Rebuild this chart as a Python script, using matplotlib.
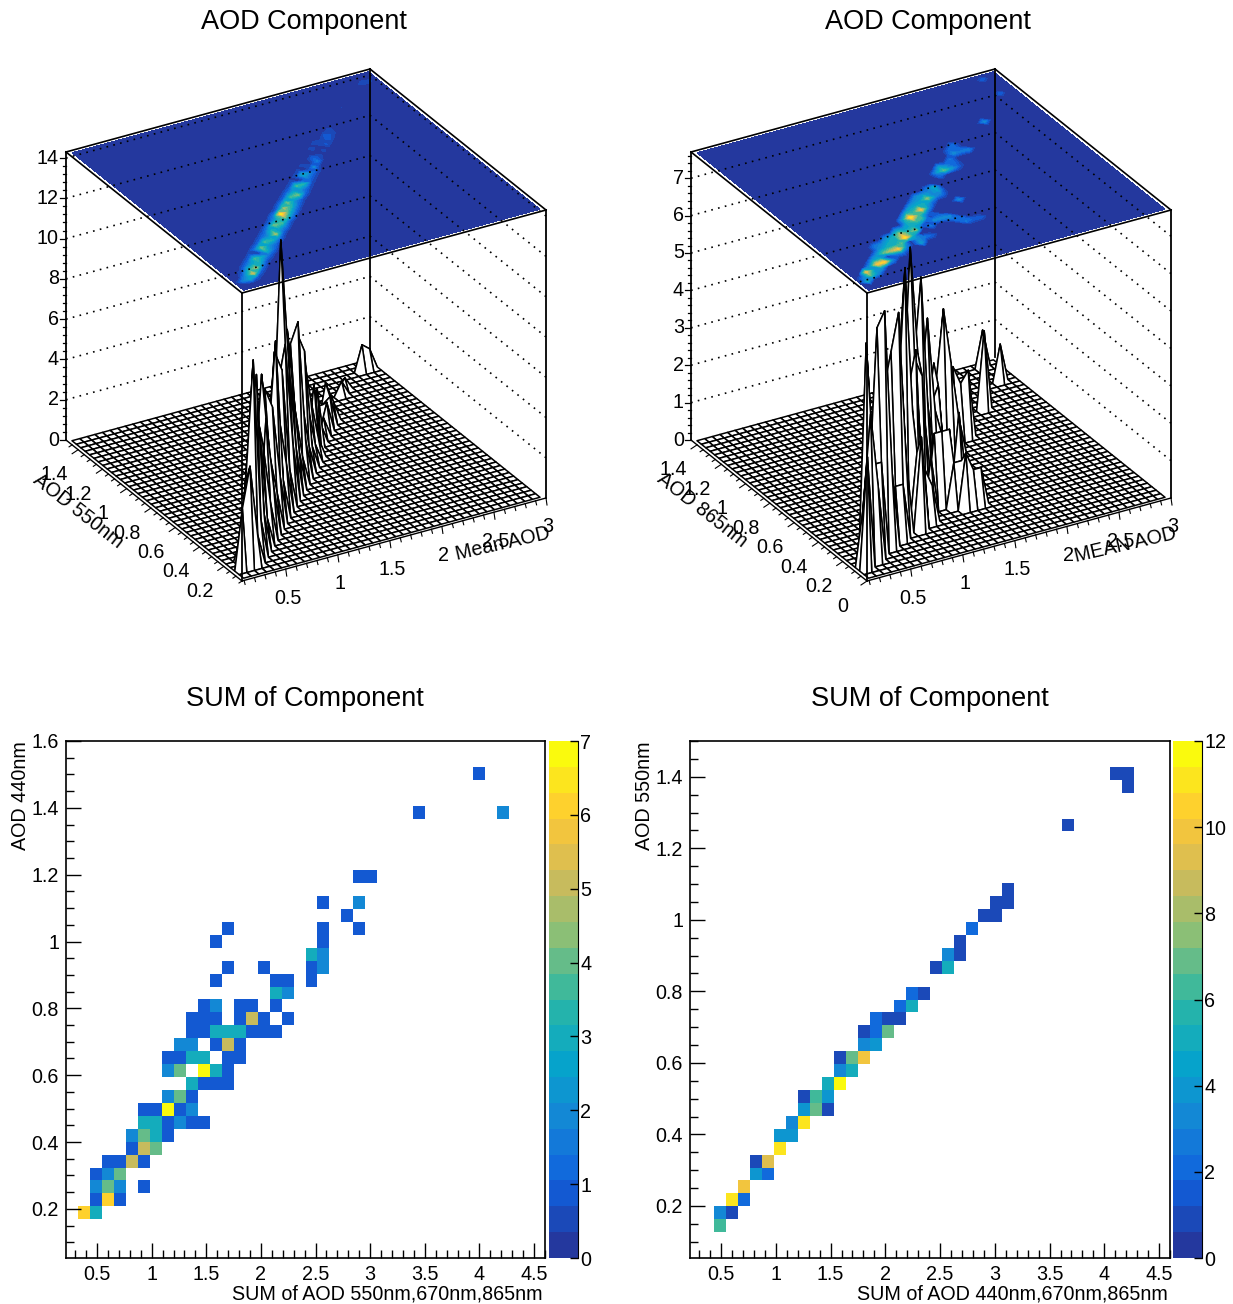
import numpy as np
import matplotlib
matplotlib.use('Agg')
import matplotlib.pyplot as plt
from matplotlib.collections import PolyCollection
from matplotlib.colors import LinearSegmentedColormap, BoundaryNorm
from matplotlib.ticker import MultipleLocator

plt.rcParams['font.family'] = ['Liberation Sans', 'DejaVu Sans']
#=================================================================================
# top left lego: cells of Mean AOD vs AOD 550nm
tl_ix = [1,2,2,3,3,4,4,5,5,6,7,7,8,8,9,9,10,10,11,11,12,12,13,13,14,14,15,15,16,16,17,17,18,18,19,20,20,21,22,23,23,25,26,27,27,28,32,33,37,38,
         3,4,5,6,7,8,9,10,11,12,13,14,15,16,17,18,19,20,21,22,
         2,3,4,5,6,7,8,9,10,11,12,13,14,15,16,17,18,19,20,21,24,24,25,26,28]
tl_iy = [2,2,3,3,4,4,5,5,6,6,7,8,8,9,9,10,10,11,11,12,12,13,13,14,14,15,15,16,16,17,17,18,18,19,19,20,21,21,22,23,24,25,26,27,28,28,33,34,37,37,
         2,3,4,5,6,7,8,9,10,11,12,13,14,15,16,17,18,19,20,21,
         4,5,6,7,8,9,10,11,12,13,14,15,16,17,18,19,20,21,22,23,26,24,27,27,29]
tl_h  = [3,5,4,10,6,9,5,6,7,5,6,8,4,7,6,4,9,6,5,8,7,6,8,13,7,9,6,8,4,7,8,5,4,7,6,3,5.5,3,3.5,3,2,1,1.5,1.5,2,1,0.7,0.6,1.3,1,
         1.5,2,2,1.5,2,2.5,2,2.5,2,2.5,2,3,2.5,2,1.5,2,1.5,1.2,1,1,
         1.2,2,2,2,2.5,2,2,2,2.5,2,3,2,2.5,2,2,1.5,1.5,1.2,1.2,1,1.2,1,1.2,1.2,1.2]
# top right lego: cells of MEAN AOD vs AOD 865nm
tr_ix = [1,2,2,3,4,5,5,6,7,8,8,9,10,10,11,12,12,13,13,14,15,15,16,17,17,18,19,19,20,22,22,23,25,26,27,32,37,37,
         1,3,4,3,4,6,5,6,7,7,8,9,6,7,9,8,8,9,11,11,12,13,11,11,10,12,13,14,15,14,12,13,14,14,15,16,16,16,15,16,17,18,17,18,18,19,21,21,23,24,24,24,26,26,25,18,17,16,19,20]
tr_iy = [2,3,4,4,5,5,6,7,7,7,8,8,9,10,7,10,11,13,12,13,14,15,11,11,16,9,17,18,14,21,22,21,24,26,24,29,34,38,
         3,3,4,5,6,5,7,8,8,6,6,7,9,9,9,9,10,10,9,8,8,8,10,11,11,12,11,10,11,12,13,14,14,15,13,14,15,16,16,17,15,16,17,17,18,16,21,20,22,21,22,23,24,25,25,10,10,12,9,9]
tr_h  = [3,4,5.8,2.5,6,6.4,3,4,5,6,3,4,6.9,5,2.5,4.5,3,6.9,4,4,5.9,3,2,2,4.5,1.5,2.5,3,2,4,2.5,2.5,2,1.2,1.8,2.1,1,1,
         1.5,2,2.5,2,2.5,2,2,2,3,1.5,1.5,2,1.5,2,3,3,2,3,3,2,1.5,1,3.5,2.5,2.5,3,2.5,1.5,2,3.5,2.5,3,3.5,2.5,2,2,3,2.5,2,2,1.5,2,2.5,2,1.5,1.2,2,1.2,1.5,1,1.2,1.5,1.5,1.2,1.2,1.2,1.2,1,1,1]
tl_xlim, tl_ylim, tl_zmax = (0.08, 3.0), (0.05, 1.5), 14.3
tr_xlim, tr_ylim, tr_zmax = (0.08, 3.0), (0.0, 1.45), 7.7
tl_zticks, tr_zticks = np.arange(0, 15, 2), np.arange(0, 8, 1)
x3_ticks = [0.5, 1, 1.5, 2, 2.5, 3]
tl_y_ticks = [0.2, 0.4, 0.6, 0.8, 1, 1.2, 1.4]
tr_y_ticks = [0, 0.2, 0.4, 0.6, 0.8, 1, 1.2, 1.4]

# bottom left histogram (bin index, bin index, entries)
bl_ix = [34,29,36,24,25,21,24,23,13,21,24,12,21,20,21,13,16,20,21,12,17,18,20,17,18,11,12,14,15,17,
         10,11,12,14,15,16,18,10,11,12,13,14,15,16,17,9,10,12,13,14,8,9,10,11,13,14,8,9,11,12,13,
         10,11,12,13,8,9,10,6,7,8,9,10,6,7,8,9,10,11,5,6,7,8,5,6,7,3,4,5,6,2,3,4,2,3,4,6,2,3,4,1,2]
bl_iy = [37,34,34,29,29,27,27,26,25,25,25,24,24,23,23,22,22,22,22,21,21,21,21,20,20,19,19,19,19,19,
         18,18,18,18,18,18,18,17,17,17,17,17,17,17,17,16,16,16,16,16,15,15,15,15,15,15,14,14,14,14,14,
         13,13,13,13,12,12,12,11,11,11,11,11,10,10,10,10,10,10,9,9,9,9,8,8,8,7,7,7,7,6,6,6,5,5,5,5,4,4,4,3,3]
bl_v  = [1,1,2,1,1,1,2,1,1,1,1,1,1,3,2,1,1,1,2,1,1,1,1,3,2,1,2,1,1,1,
         1,1,1,1,5,1,1,1,1,3,3,3,1,1,1,2,2,1,5,1,1,1,3,3,1,1,2,4,7,3,1,
         3,1,1,1,2,4,1,1,1,7,1,2,3,3,1,2,1,1,2,4,3,1,1,5,4,1,1,5,1,1,2,4,2,4,2,1,1,6,1,6,3]
# bottom right histogram
br_ix = [35,36,36,31,26,25,26,24,25,23,22,21,22,20,21,18,19,17,18,15,16,17,14,15,16,14,15,12,13,14,12,13,11,12,9,10,11,9,10,11,8,9,7,8,7,5,6,5,6,4,3,4,2,3,2]
br_iy = [37,37,36,33,28,27,27,26,26,25,24,23,23,22,22,20,20,19,19,18,18,18,17,17,17,16,16,15,15,15,14,14,13,13,12,12,12,11,11,11,10,10,9,9,8,7,7,6,6,5,4,4,3,3,2]
br_v  = [1,1,1,1,1,1,1,1,1,2,1,3,1,1,5,2,1,2,5,2,1,1,1,2,7,3,4,1,7,10,3,5,5,12,1,6,4,4,7,1,3,11,4,4,11,1,9,4,2,10,11,2,3,1,6]

bl_xlim, bl_ylim, bl_zmax = (0.216, 4.6), (0.053, 1.6), 7
br_xlim, br_ylim, br_zmax = (0.216, 4.6), (0.0545, 1.5), 12
x2_ticks = [0.5, 1, 1.5, 2, 2.5, 3, 3.5, 4, 4.5]
bl_y_ticks = [0.2, 0.4, 0.6, 0.8, 1, 1.2, 1.4, 1.6]
br_y_ticks = [0.2, 0.4, 0.6, 0.8, 1, 1.2, 1.4]
#=================================================================================
W, H = 1233, 1304
NBINS = 40
FS = 14.2
bird = LinearSegmentedColormap.from_list('bird', [
    (0.14, 0.22, 0.62), (0.06, 0.38, 0.87), (0.08, 0.52, 0.84), (0.02, 0.65, 0.79),
    (0.18, 0.72, 0.64), (0.53, 0.75, 0.47), (0.82, 0.73, 0.35), (1.00, 0.79, 0.20), (0.98, 0.98, 0.05)], N=256)


def to_grid(ix, iy, v):
    z = np.zeros((NBINS, NBINS))
    z[iy, ix] = v
    return z


def fmt(v):
    return ('%g' % v)


def lego_panel(ax, ox, title, tx, ix, iy, h, xlim, ylim, zmax, zticks, yticks, xlabel, ylabel, xlab_pos, ylab_pos):
    front = np.array([ox + 242, 293.0])
    ex, ey, height = np.array([304.0, -83.0]), np.array([-176.0, -141.0]), 288.0

    def proj(u, v, z):
        return (front[0] + u*ex[0] + v*ey[0], front[1] + u*ex[1] + v*ey[1] + height*(1 - np.asarray(z)/zmax))

    z = to_grid(ix, iy, h)
    centers = (np.arange(NBINS) + 0.5)/NBINS
    U, V = np.meshgrid(centers, centers)
    levels = np.linspace(0, z.max()*1.05, 21)
    # contour on the top of the box
    PX, PY = proj(U, V, zmax)
    ax.contourf(PX, PY, z, levels=levels, cmap=bird, norm=BoundaryNorm(levels, 256), zorder=1)

    # dotted grid on the two back walls
    for zt in zticks[1:]:
        a, b, c = proj(0, 1, zt), proj(1, 1, zt), proj(1, 0, zt)
        ax.plot([a[0], b[0], c[0]], [a[1], b[1], c[1]], color='k', lw=1.2, ls=(0, (1, 3.2)), zorder=2)
    for u, v in [(0, 1), (1, 1), (1, 0)]:
        a, b = proj(u, v, 0), proj(u, v, zmax)
        ax.plot([a[0], b[0]], [a[1], b[1]], color='k', lw=1.3, zorder=2)

    # surface, from the back corner to the front one
    SX, SY = proj(U, V, z)
    verts = []
    for i in range(NBINS - 2, -1, -1):
        for j in range(NBINS - 2, -1, -1):
            verts.append([(SX[i, j], SY[i, j]), (SX[i, j+1], SY[i, j+1]), (SX[i+1, j+1], SY[i+1, j+1]), (SX[i+1, j], SY[i+1, j])])
    ax.add_collection(PolyCollection(verts, facecolors='white', edgecolors='k', linewidths=1.1, zorder=3))

    # box outline
    for p, q in [((0, 1), (0, 0)), ((0, 0), (1, 0)), ((1, 0), (1, 1)), ((1, 1), (0, 1))]:
        a, b = proj(p[0], p[1], zmax), proj(q[0], q[1], zmax)
        ax.plot([a[0], b[0]], [a[1], b[1]], color='k', lw=1.2, zorder=4)
    for p, q in [((0, 1), (0, 0)), ((0, 0), (1, 0))]:
        a, b = proj(p[0], p[1], 0), proj(q[0], q[1], 0)
        ax.plot([a[0], b[0]], [a[1], b[1]], color='k', lw=1.0, zorder=4)
    a, b = proj(0, 0, 0), proj(0, 0, zmax)
    ax.plot([a[0], b[0]], [a[1], b[1]], color='k', lw=1.3, zorder=4)

    # z axis
    step = zticks[1] - zticks[0]
    for zt in np.arange(0, zmax, step/5):
        px, py = proj(0, 1, zt)
        major = np.isclose(zt/step, round(zt/step))
        ax.plot([px - (6 if major else 3), px], [py, py], color='k', lw=0.9, zorder=4)
    for zt in zticks:
        px, py = proj(0, 1, zt)
        ax.text(px - 7, py, fmt(zt), ha='right', va='center', fontsize=FS, zorder=5)
    # x axis
    for xt in np.arange(0.1, 3.01, 0.1):
        u = (xt - xlim[0])/(xlim[1] - xlim[0])
        px, py = proj(u, 0, 0)
        major = np.isclose(xt*2, round(xt*2))
        ax.plot([px, px + 1], [py, py + (7 if major else 4)], color='k', lw=0.8, zorder=4)
    for xt in x3_ticks:
        u = (xt - xlim[0])/(xlim[1] - xlim[0])
        px, py = proj(u, 0, 0)
        ax.text(px + 2, py + 29, fmt(xt), ha='center', va='center', fontsize=FS, zorder=5)
    # y axis
    for yt in np.arange(np.ceil(ylim[0]*20)/20, ylim[1], 0.05):
        v = (yt - ylim[0])/(ylim[1] - ylim[0])
        px, py = proj(0, v, 0)
        major = np.isclose(yt*5, round(yt*5))
        ax.plot([px - (6 if major else 3), px], [py + (4 if major else 2), py], color='k', lw=0.8, zorder=4)
    for yt in yticks:
        v = (yt - ylim[0])/(ylim[1] - ylim[0])
        px, py = proj(0, v, 0)
        ax.text(px - 24, py + 25, fmt(yt), ha='center', va='center', fontsize=FS, zorder=5)
    ax.text(xlab_pos[0], xlab_pos[1], xlabel, rotation=13, ha='center', va='center', fontsize=FS, zorder=6)
    ax.text(ylab_pos[0], ylab_pos[1], ylabel, rotation=-38, ha='center', va='center', fontsize=FS, zorder=6)
    ax.text(tx, 22, title, ha='center', va='center', fontsize=19.5, zorder=6)


def hist_panel(left, right, cb_left, cb_right, ix, iy, vals, xlim, ylim, zmax, yticks, xlabel, ylabel, title, tx):
    top, bottom = 741, 1258
    ax = fig.add_axes([left/W, 1 - bottom/H, (right - left)/W, (bottom - top)/H])
    xedges = np.linspace(xlim[0], xlim[1], NBINS + 1)
    yedges = np.linspace(ylim[0], ylim[1], NBINS + 1)
    z = np.ma.masked_equal(to_grid(ix, iy, vals), 0)
    levels = np.linspace(0, zmax, 21)
    norm = BoundaryNorm(levels, 256)
    ax.pcolormesh(xedges, yedges, z, cmap=bird, norm=norm)
    ax.set_xlim(xlim)
    ax.set_ylim(ylim)
    ax.set_xticks(x2_ticks)
    ax.set_xticklabels([fmt(t) for t in x2_ticks])
    ax.set_yticks(yticks)
    ax.set_yticklabels([fmt(t) for t in yticks])
    ax.xaxis.set_minor_locator(MultipleLocator(0.1))
    ax.yaxis.set_minor_locator(MultipleLocator(0.05))
    ax.tick_params(which='major', direction='in', length=11, width=1, labelsize=FS, pad=5)
    ax.tick_params(which='minor', direction='in', length=6, width=1)
    for s in ax.spines.values():
        s.set_linewidth(1.2)
    ax.set_xlabel(xlabel, fontsize=FS, ha='right', va='center')
    ax.xaxis.set_label_coords((right - 2 - left)/(right - left), -36/(bottom - top))
    ax.set_ylabel(ylabel, fontsize=FS, ha='right', va='center')
    ax.yaxis.set_label_coords(-45/(right - left), 1)
    ax.set_title(title, fontsize=19.5, x=(tx - left)/(right - left), y=1 + 34/(bottom - top), va='center')

    cax = fig.add_axes([cb_left/W, 1 - bottom/H, (cb_right - cb_left)/W, (bottom - top)/H])
    cax.pcolormesh([0, 1], levels, levels[:-1].reshape(-1, 1), cmap=bird, norm=norm)
    cax.set_xticks([])
    cax.yaxis.tick_right()
    cax.set_yticks(np.arange(0, zmax + 1, 1 if zmax < 10 else 2))
    cax.tick_params(direction='in', length=6, width=1, labelsize=FS, pad=1.5)
    for name in ['left', 'top', 'bottom']:
        cax.spines[name].set_visible(False)
    cax.spines['right'].set_linewidth(0.8)


fig = plt.figure(figsize=(W/100, H/100), dpi=100)
ax3 = fig.add_axes([0, 0, 1, 1])
ax3.set_xlim(0, W)
ax3.set_ylim(H, 0)
ax3.axis('off')

lego_panel(ax3, 0, 'AOD Component', 304, tl_ix, tl_iy, tl_h, tl_xlim, tl_ylim, tl_zmax, tl_zticks, tl_y_ticks,
           'Mean AOD', 'AOD 550nm', (503, 544), (78, 511))
lego_panel(ax3, 625, 'AOD Component', 928, tr_ix, tr_iy, tr_h, tr_xlim, tr_ylim, tr_zmax, tr_zticks, tr_y_ticks,
           'MEAN AOD', 'AOD 865nm', (1125, 545), (702, 510))
hist_panel(66, 545, 549, 578, bl_ix, bl_iy, bl_v, bl_xlim, bl_ylim, bl_zmax, bl_y_ticks,
           'SUM of AOD 550nm,670nm,865nm', 'AOD 440nm', 'SUM of Component', 305)
hist_panel(690, 1170, 1173, 1202, br_ix, br_iy, br_v, br_xlim, br_ylim, br_zmax, br_y_ticks,
           'SUM of AOD 440nm,670nm,865nm', 'AOD 550nm', 'SUM of Component', 930)

plt.savefig('out.png', dpi=100)
